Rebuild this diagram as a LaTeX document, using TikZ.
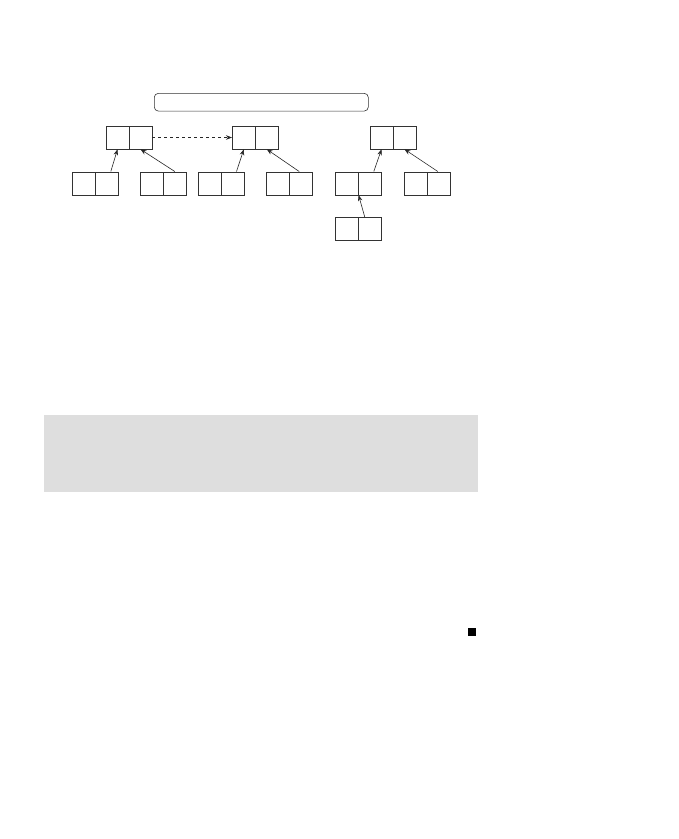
\documentclass[tikz,border=0pt]{standalone}
\usetikzlibrary{arrows.meta,calc}
\begin{document}
\begin{tikzpicture}[x=1pt,y=-1pt,
  cell/.style={draw=black!80,line width=0.6pt,inner sep=0pt,minimum width=23pt,minimum height=23pt},
  link/.style={draw=black!85,line width=0.6pt,-{Stealth[length=6pt,width=4.5pt]}},
  banner/.style={draw=black!80,line width=0.6pt,rounded corners=4pt,inner sep=0pt,minimum width=214pt,minimum height=17.7pt},
  shade/.style={fill=black!13,draw=none,inner sep=0pt,minimum width=433.7pt,minimum height=76.7pt},
  dot/.style={fill=black,draw=none,inner sep=0pt,minimum size=7.4pt}]
\useasboundingbox (0,0) rectangle (679,839);
\node[banner] (top) at (261.3,102.2) {};
% row 1
\node[cell] (p1a) at (117.5,137.5) {};
\node[cell] (p1b) at (140.5,137.5) {};
\node[cell] (p2a) at (243.8,137.5) {};
\node[cell] (p2b) at (266.8,137.5) {};
\node[cell] (p3a) at (381.5,137.5) {};
\node[cell] (p3b) at (404.5,137.5) {};
% row 2
\node[cell] (c1a) at (83.8,183.3) {};
\node[cell] (c1b) at (106.8,183.3) {};
\node[cell] (c2a) at (151.8,183.3) {};
\node[cell] (c2b) at (174.8,183.3) {};
\node[cell] (c3a) at (209.5,183.3) {};
\node[cell] (c3b) at (232.5,183.3) {};
\node[cell] (c4a) at (278.2,183.3) {};
\node[cell] (c4b) at (301.2,183.3) {};
\node[cell] (c5a) at (346.8,183.3) {};
\node[cell] (c5b) at (369.8,183.3) {};
\node[cell] (c6a) at (415.8,183.3) {};
\node[cell] (c6b) at (438.8,183.3) {};
% row 3
\node[cell] (c7a) at (346.8,229) {};
\node[cell] (c7b) at (369.8,229) {};
% links
\draw[link] ($(c1b.north)+(4,0)$) -- (p1a.south);
\draw[link] (c2b.north) -- (p1b.south);
\draw[link] ($(c3b.north)+(4,0)$) -- (p2a.south);
\draw[link] ($(c4b.north)+(-2,0)$) -- (p2b.south);
\draw[link] ($(c5b.north)+(4,0)$) -- (p3a.south);
\draw[link] ($(c6b.north)+(-1,0)$) -- (p3b.south);
\draw[link] ($(c7b.north)+(-5,0)$) -- (c5a.south east);
\draw[link,dashed] (p1b.east) -- (p2a.west);
% lower parts
\node[shade] (band) at (260.85,453.35) {};
\node[dot] (end) at (472,632) {};
\end{tikzpicture}
\end{document}
